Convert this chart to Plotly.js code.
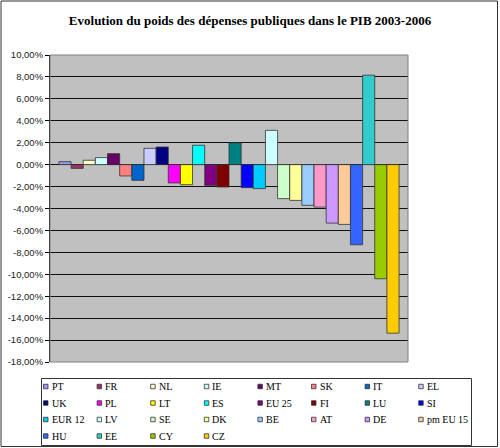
<!DOCTYPE html>
<html>
<head>
<meta charset="utf-8">
<script src="https://cdn.plot.ly/plotly-3.0.1.min.js"></script>
<style>
html,body{margin:0;padding:0;background:#fff;}
#chart{width:500px;height:448px;}
</style>
</head>
<body>
<div id="chart"></div>
<script>
// Data (percent change of public spending weight in GDP, 2003-2006)
const countries = ["PT","FR","NL","IE","MT","SK","IT","EL","UK","PL","LT","ES","EU 25","FI","LU","SI","EUR 12","LV","SE","DK","BE","AT","DE","pm EU 15","HU","EE","CY","CZ"];
const values = [0.27,-0.34,0.40,0.64,1.00,-1.03,-1.43,1.49,1.61,-1.67,-1.83,1.77,-1.89,-2.04,1.98,-2.10,-2.19,3.13,-3.10,-3.26,-3.71,-3.87,-5.33,-5.45,-7.31,8.16,-10.41,-15.37];
const colors = ["#9999FF","#993366","#FFFFCC","#CCFFFF","#660066","#FF8080","#0066CC","#CCCCFF","#000080","#FF00FF","#FFFF00","#00FFFF","#800080","#800000","#008080","#0000FF","#00CCFF","#CCFFFF","#CCFFCC","#FFFF99","#99CCFF","#FF99CC","#CC99FF","#FFCC99","#3366FF","#33CCCC","#99CC00","#FFCC00"];
const tickVals = [10,8,6,4,2,0,-2,-4,-6,-8,-10,-12,-14,-16,-18];
const tickText = tickVals.map(v => v.toFixed(2).replace('.', ',') + '%');
const titleText = "Evolution du poids des dépenses publiques dans le PIB 2003-2006";

// Geometry (pixels)
const W = 500, H = 448;
const mL = 50, mR = 92, mT = 55, mB = 86;
const pw = W - mL - mR, ph = H - mT - mB;
const px = x => (x - mL) / pw;
const py = y => (H - mB - y) / ph;

const traces = countries.map((c, i) => ({
  type: 'bar',
  x: [''],
  y: [values[i]],
  name: c,
  marker: {color: colors[i], line: {color: '#333333', width: 0.8}},
  showlegend: false,
  hovertemplate: c + ': %{y:.2f}%<extra></extra>'
}));

// Custom legend (8 columns x 4 rows)
const shapes = [];
const annotations = [];
const colX0 = 43.5, colStep = 53.6, rowY0 = 386.5, rowStep = 16.5, sq = 4.5;
countries.forEach((c, i) => {
  const col = i % 8, row = Math.floor(i / 8);
  const x = colX0 + col * colStep, y = rowY0 + row * rowStep;
  shapes.push({type: 'rect', xref: 'paper', yref: 'paper',
    x0: px(x), x1: px(x + sq), y0: py(y - sq / 2), y1: py(y + sq / 2),
    fillcolor: colors[i], line: {color: '#333333', width: 0.8}});
  annotations.push({xref: 'paper', yref: 'paper', x: px(x + sq + 1.5), y: py(y),
    xanchor: 'left', yanchor: 'middle', text: c, showarrow: false,
    font: {family: 'Liberation Serif, Times New Roman, serif', size: 10, color: '#000'}});
});
// legend box
shapes.push({type: 'rect', xref: 'paper', yref: 'paper',
  x0: px(41.5), x1: px(471.5), y0: py(378.5), y1: py(445.5),
  line: {color: '#333333', width: 1}, fillcolor: 'rgba(0,0,0,0)'});
// plot area border
shapes.push({type: 'rect', xref: 'paper', yref: 'paper', x0: 0, x1: 1, y0: 0, y1: 1,
  line: {color: '#808080', width: 1}, fillcolor: 'rgba(0,0,0,0)'});
// outer chart border
shapes.push({type: 'rect', xref: 'paper', yref: 'paper',
  x0: px(1), x1: px(497.5), y0: py(1), y1: py(446.5),
  line: {color: '#333333', width: 1}, fillcolor: 'rgba(0,0,0,0)'});

const layout = {
  width: W, height: H,
  margin: {l: mL, r: mR, t: mT, b: mB, pad: 0},
  paper_bgcolor: '#FFFFFF',
  plot_bgcolor: '#C0C0C0',
  title: {text: titleText, x: 0.5, xref: 'container', xanchor: 'center',
    y: 1 - 20 / H, yref: 'container', yanchor: 'middle',
    font: {family: 'Liberation Serif, Times New Roman, serif', size: 13, color: '#000', weight: 'bold'}},
  barmode: 'group',
  bargap: 0.05,
  bargroupgap: 0,
  showlegend: false,
  xaxis: {showticklabels: false, showgrid: false, zeroline: false, showline: false, ticks: '', fixedrange: true},
  yaxis: {range: [-18, 10], tickvals: tickVals, ticktext: tickText,
    ticks: 'outside', ticklen: 4, tickcolor: '#000', tickwidth: 1,
    showline: true, linecolor: '#000', linewidth: 1,
    showgrid: true, gridcolor: '#111111', gridwidth: 1,
    zeroline: true, zerolinecolor: '#111111', zerolinewidth: 1,
    tickfont: {family: 'Liberation Sans, Arial, sans-serif', size: 9.5, color: '#222'},
    fixedrange: true},
  shapes: shapes,
  annotations: annotations
};

Plotly.newPlot('chart', traces, layout, {displayModeBar: false, staticPlot: true});
</script>
</body>
</html>
